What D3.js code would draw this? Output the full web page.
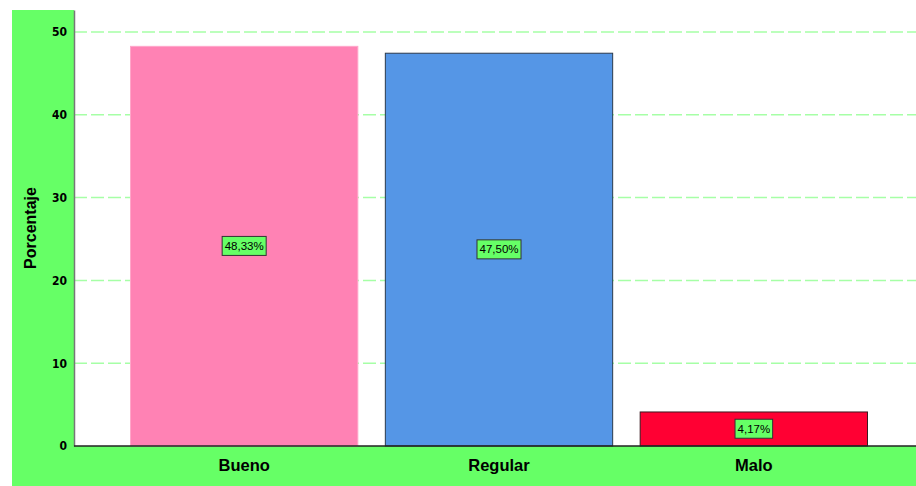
<!DOCTYPE html>
<html>
<head>
<meta charset="utf-8">
<script src="https://cdn.jsdelivr.net/npm/d3@7"></script>
<style>
  body { margin: 0; background: #fff; }
  svg { display: block; }
</style>
</head>
<body>
<svg id="chart"></svg>
<script>
// data
const categories = ["Bueno", "Regular", "Malo"];
const percentages = [48.33, 47.50, 4.17];
const pctLabels = ["48,33%", "47,50%", "4,17%"];
const yTicks = [0, 10, 20, 30, 40, 50];
const barColors = ["#ff82b4", "#5596e6", "#ff0033"];
const barStrokes = ["#ffa6c9", "#2b3a4d", "#3a1a20"];

const width = 916, height = 486;
const svg = d3.select("#chart").attr("width", width).attr("height", height);

// plot frame
let plotLeft = 74, plotRight = 916, plotTop = 10, plotBottom = 446;

// green panel behind everything
svg.append("rect")
    .attr("x", 12).attr("y", 10)
    .attr("width", width - 12).attr("height", height - 10)
    .attr("fill", "#66ff66");

// white plot area
svg.append("rect")
    .attr("x", plotLeft).attr("y", plotTop)
    .attr("width", plotRight - plotLeft).attr("height", plotBottom - plotTop)
    .attr("fill", "#fff");

let y = d3.scaleLinear().domain([0, 52.66]).range([plotBottom, plotTop]);
let x = d3.scaleBand().domain(categories).range([130, 868])
    .paddingInner(0.104).paddingOuter(0);

// gridlines
svg.append("g")
    .selectAll("line")
    .data(yTicks.filter(d => d > 0))
    .enter().append("line")
    .attr("x1", plotLeft).attr("x2", plotRight)
    .attr("y1", d => y(d)).attr("y2", d => y(d))
    .attr("stroke", "#a6ffa6")
    .attr("stroke-width", 1.5)
    .attr("stroke-dasharray", "13,4");

// bars
svg.append("g")
    .selectAll("rect")
    .data(categories)
    .enter().append("rect")
    .attr("x", d => x(d) + 0.5)
    .attr("y", (d, i) => y(percentages[i]) + 0.5)
    .attr("width", x.bandwidth() - 1)
    .attr("height", (d, i) => y(0) - y(percentages[i]) - 0.5)
    .attr("fill", (d, i) => barColors[i])
    .attr("stroke", (d, i) => barStrokes[i])
    .attr("stroke-width", 1);

// value labels
let labels = svg.append("g")
    .selectAll("g")
    .data(categories)
    .enter().append("g")
    .attr("transform", (d, i) => "translate(" + (x(d) + x.bandwidth() / 2) + "," +
        ((y(percentages[i]) + y(0)) / 2) + ")");

labels.append("text")
    .text((d, i) => pctLabels[i])
    .attr("text-anchor", "middle")
    .attr("dy", "0.35em")
    .style("font-family", "Arial, 'Liberation Sans', sans-serif")
    .style("font-size", "11.5px")
    .style("fill", "#000")
    .each(function () {
        let bb = this.getBBox();
        d3.select(this.parentNode).insert("rect", "text")
            .attr("x", bb.x - 2.5).attr("y", -9.5)
            .attr("width", bb.width + 5).attr("height", 19)
            .attr("fill", "#66ff66")
            .attr("stroke", "#333")
            .attr("stroke-width", 1);
    });

// y axis
let yAxis = svg.append("g")
    .attr("transform", "translate(" + plotLeft + ",0)")
    .call(d3.axisLeft(y).tickValues(yTicks).tickSize(0).tickPadding(7));
yAxis.select(".domain").attr("stroke", "#777").attr("stroke-width", 1.5);
yAxis.selectAll("text")
    .style("font-family", "'DejaVu Sans Condensed', 'Liberation Sans Narrow', sans-serif")
    .style("font-weight", "bold")
    .style("font-size", "12px")
    .style("fill", "#000");

// x axis line
svg.append("line")
    .attr("x1", plotLeft).attr("x2", plotRight)
    .attr("y1", plotBottom).attr("y2", plotBottom)
    .attr("stroke", "#222").attr("stroke-width", 1.5);

// x labels
svg.append("g")
    .selectAll("text")
    .data(categories)
    .enter().append("text")
    .attr("x", d => x(d) + x.bandwidth() / 2)
    .attr("y", 471)
    .attr("text-anchor", "middle")
    .text(d => d)
    .style("font-family", "Arial, 'Liberation Sans', sans-serif")
    .style("font-weight", "bold")
    .style("font-size", "16.5px")
    .style("fill", "#000");

// y title
svg.append("text")
    .attr("transform", "translate(36,228) rotate(-90)")
    .attr("text-anchor", "middle")
    .text("Porcentaje")
    .style("font-family", "Arial, 'Liberation Sans', sans-serif")
    .style("font-weight", "bold")
    .style("font-size", "16px")
    .style("fill", "#000");
</script>
</body>
</html>
